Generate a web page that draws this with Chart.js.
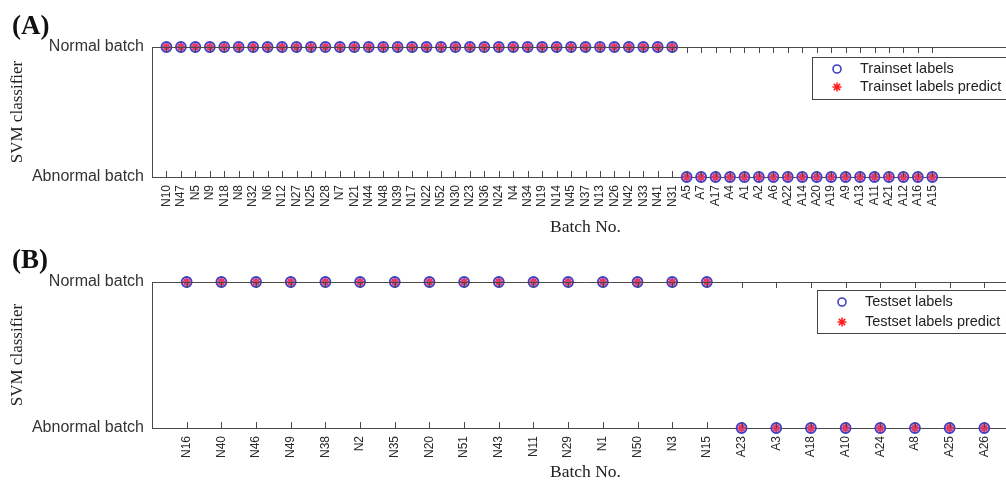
<!DOCTYPE html>
<html>
<head>
<meta charset="utf-8">
<script src="https://cdn.jsdelivr.net/npm/chart.js@4.4.1/dist/chart.umd.min.js"></script>
<style>
    html, body { margin: 0; padding: 0; background: #fff; overflow: hidden; width: 1006px; height: 484px; }
    .panel { position: absolute; left: 0; }
</style>
</head>
<body>
<div class="panel" style="top:0; width:1030px; height:240px;"><canvas id="trainChart" width="1030" height="240"></canvas></div>
<div class="panel" style="top:240px; width:1030px; height:244px;"><canvas id="testChart" width="1030" height="244"></canvas></div>
<script>
// y: 1 = Normal batch, 0 = Abnormal batch
const yTickLabels = ['Abnormal batch', 'Normal batch'];

const trainBatches = ['N10', 'N47', 'N5', 'N9', 'N18', 'N8', 'N32', 'N6', 'N12', 'N27', 'N25', 'N28',
    'N7', 'N21', 'N44', 'N48', 'N39', 'N17', 'N22', 'N52', 'N30', 'N23', 'N36', 'N24', 'N4', 'N34',
    'N19', 'N14', 'N45', 'N37', 'N13', 'N26', 'N42', 'N33', 'N41', 'N31',
    'A5', 'A7', 'A17', 'A4', 'A1', 'A2', 'A6', 'A22', 'A14', 'A20', 'A19', 'A9', 'A13', 'A11',
    'A21', 'A12', 'A16', 'A15'];
const trainLabels = [1, 1, 1, 1, 1, 1, 1, 1, 1, 1, 1, 1, 1, 1, 1, 1, 1, 1, 1, 1, 1, 1, 1, 1, 1, 1,
    1, 1, 1, 1, 1, 1, 1, 1, 1, 1,
    0, 0, 0, 0, 0, 0, 0, 0, 0, 0, 0, 0, 0, 0, 0, 0, 0, 0];
const trainPredict = [1, 1, 1, 1, 1, 1, 1, 1, 1, 1, 1, 1, 1, 1, 1, 1, 1, 1, 1, 1, 1, 1, 1, 1, 1, 1,
    1, 1, 1, 1, 1, 1, 1, 1, 1, 1,
    0, 0, 0, 0, 0, 0, 0, 0, 0, 0, 0, 0, 0, 0, 0, 0, 0, 0];

const testBatches = ['N16', 'N40', 'N46', 'N49', 'N38', 'N2', 'N35', 'N20', 'N51', 'N43', 'N11', 'N29',
    'N1', 'N50', 'N3', 'N15', 'A23', 'A3', 'A18', 'A10', 'A24', 'A8', 'A25', 'A26'];
const testLabels = [1, 1, 1, 1, 1, 1, 1, 1, 1, 1, 1, 1, 1, 1, 1, 1, 0, 0, 0, 0, 0, 0, 0, 0];
const testPredict = [1, 1, 1, 1, 1, 1, 1, 1, 1, 1, 1, 1, 1, 1, 1, 1, 0, 0, 0, 0, 0, 0, 0, 0];

const AXIS = '#4a4a4a';
const CIRCLE = '#4040c0';
const STAR = '#ff2020';
const SANS = '"Liberation Sans", Arial, sans-serif';
const SERIF = '"Liberation Serif", "Times New Roman", serif';

// MATLAB style box: top line plus inward ticks on both x edges, panel tag and boxed legend
const matlabBox = {
    id: 'matlabBox',
    afterDraw(chart, args, opts) {
        const ctx = chart.ctx;
        const { left, right, top, bottom } = chart.chartArea;
        const xs = chart.scales.x;
        ctx.save();
        ctx.strokeStyle = AXIS;
        ctx.lineWidth = 1;
        ctx.beginPath();
        ctx.moveTo(left, top + 0.5);
        ctx.lineTo(right, top + 0.5);
        xs.ticks.forEach(t => {
            const px = Math.round(xs.getPixelForValue(t.value)) + 0.5;
            ctx.moveTo(px, bottom);
            ctx.lineTo(px, bottom - 6);
            ctx.moveTo(px, top);
            ctx.lineTo(px, top + 6);
        });
        ctx.stroke();

        // panel tag
        ctx.fillStyle = '#111';
        ctx.font = 'bold 27px ' + SERIF;
        ctx.textBaseline = 'alphabetic';
        ctx.fillText(opts.tag, opts.tagX, opts.tagY);

        // legend box
        const lg = opts.legend;
        ctx.fillStyle = '#fff';
        ctx.fillRect(lg.x, lg.y, lg.w, lg.h);
        ctx.strokeStyle = '#444';
        ctx.strokeRect(lg.x + 0.5, lg.y + 0.5, lg.w, lg.h);
        ctx.font = '14.5px ' + SANS;
        ctx.textBaseline = 'middle';
        const legendStyles = [
            { pointStyle: 'circle', radius: 4, borderWidth: 1.6, color: CIRCLE, fill: 'rgba(0,0,0,0)' },
            { pointStyle: 'star', radius: 4.5, borderWidth: 1.6, color: STAR, fill: STAR }
        ];
        chart.data.datasets.forEach((ds, i) => {
            const cy = lg.rows[i];
            const st = legendStyles[i];
            ctx.strokeStyle = st.color;
            ctx.fillStyle = st.fill;
            ctx.lineWidth = st.borderWidth;
            Chart.helpers.drawPoint(ctx, st, lg.markX, cy);
            ctx.fillStyle = '#222';
            ctx.fillText(ds.label, lg.textX, cy);
        });
        ctx.restore();
    }
};

function makeDatasets(labels, predict, setName) {
    return [
        {
            label: setName + ' labels',
            data: labels.map((v, i) => ({ x: i, y: v })),
            pointStyle: 'circle',
            pointRadius: 5,
            pointHoverRadius: 5,
            borderWidth: 1.8,
            borderColor: CIRCLE,
            backgroundColor: 'rgba(190, 90, 190, 0.45)',
            showLine: false,
            clip: false
        },
        {
            label: setName + ' labels predict',
            data: predict.map((v, i) => ({ x: i, y: v })),
            pointStyle: 'star',
            pointRadius: 4,
            pointHoverRadius: 4,
            borderWidth: 2,
            borderColor: STAR,
            backgroundColor: STAR,
            showLine: false,
            clip: false
        }
    ];
}

function createChart(canvasId, names, labels, predict, setName, cfg) {
    const ctx = document.getElementById(canvasId).getContext('2d');

    new Chart(ctx, {
        type: 'scatter',
        data: { datasets: makeDatasets(labels, predict, setName) },
        options: {
            responsive: false,
            animation: false,
            events: [],
            layout: { padding: { left: 0, right: 11, top: cfg.top, bottom: 0 } },
            plugins: {
                legend: { display: false },
                tooltip: { enabled: false },
                matlabBox: cfg.box
            },
            scales: {
                x: {
                    type: 'linear',
                    min: -1,
                    max: cfg.xMax,
                    afterBuildTicks: scale => { scale.ticks = names.map((_, i) => ({ value: i })); },
                    afterFit: scale => { scale.height = cfg.xHeight; },
                    grid: { display: false, drawTicks: false },
                    border: { display: true, color: AXIS, width: 1 },
                    ticks: {
                        autoSkip: false,
                        maxRotation: 90,
                        minRotation: 90,
                        padding: 8,
                        color: '#2a2a2a',
                        font: { family: SANS, size: 12 },
                        callback: v => names[v]
                    },
                    title: {
                        display: true,
                        text: 'Batch No.',
                        color: '#222',
                        font: { family: SERIF, size: 17.5 },
                        padding: { top: 0, bottom: cfg.titlePad }
                    }
                },
                y: {
                    type: 'linear',
                    min: 0,
                    max: 1,
                    afterBuildTicks: scale => { scale.ticks = yTickLabels.map((_, i) => ({ value: i })); },
                    afterFit: scale => { scale.width = 152; },
                    grid: { display: false, drawTicks: false },
                    border: { display: true, color: AXIS, width: 1 },
                    ticks: {
                        padding: 8,
                        color: '#333',
                        font: { family: SANS, size: 16 },
                        callback: v => yTickLabels[v]
                    },
                    title: {
                        display: true,
                        text: 'SVM classifier',
                        color: '#222',
                        font: { family: SERIF, size: 17 },
                        padding: { top: 7, bottom: 0 }
                    }
                }
            }
        },
        plugins: [matlabBox]
    });
}

document.addEventListener('DOMContentLoaded', () => {
    createChart('trainChart', trainBatches, trainLabels, trainPredict, 'Trainset', {
        top: 47, xHeight: 63, xMax: 59, titlePad: 2.5,
        box: {
            tag: '(A)', tagX: 12, tagY: 34,
            legend: { x: 812, y: 57, w: 230, h: 42, markX: 837, textX: 860, rows: [69, 87] }
        }
    });
    createChart('testChart', testBatches, testLabels, testPredict, 'Testset', {
        top: 42, xHeight: 56, xMax: 24, titlePad: 1.5,
        box: {
            tag: '(B)', tagX: 12, tagY: 28,
            legend: { x: 817, y: 50, w: 230, h: 43, markX: 842, textX: 865, rows: [62, 82] }
        }
    });
});
</script>
</body>
</html>
